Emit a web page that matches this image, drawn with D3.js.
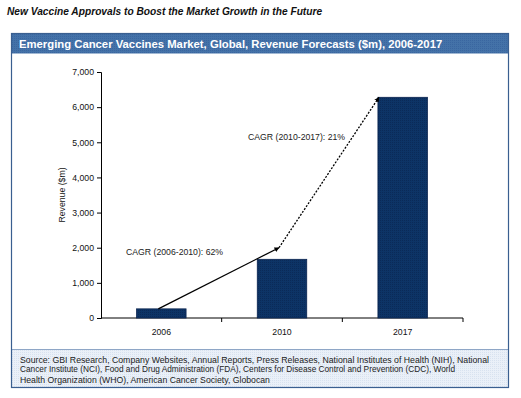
<!DOCTYPE html>
<html>
<head>
<meta charset="utf-8">
<script src="https://cdn.jsdelivr.net/npm/d3@7"></script>
<style>
  body { margin: 0; background: #fff; }
  svg { display: block; font-family: Arial, "Liberation Sans", sans-serif; }
</style>
</head>
<body>
<svg id="chart" width="521" height="398"></svg>
<script>
// chart data
const years = ["2006", "2010", "2017"];
const revenue = [260, 1670, 6280];
const yTicks = [0, 1000, 2000, 3000, 4000, 5000, 6000, 7000];
// trend arrows: solid 2006 -> 2010, dotted 2010 -> 2017
const trendYears = ["2006", "2010", "2017"];
const trendValues = [260, 2000, 6280];
const cagrLabels = [
    { text: "CAGR (2006-2010): 62%", year: "2006", value: 1800 },
    { text: "CAGR (2010-2017): 21%", year: "2010", value: 5070 }
];
const sourceLines = [
    "Source: GBI Research, Company Websites, Annual Reports, Press Releases, National Institutes of Health (NIH), National",
    "Cancer Institute (NCI), Food and Drug Administration (FDA), Centers for Disease Control and Prevention (CDC),  World",
    "Health Organization (WHO), American Cancer Society, Globocan"
];

const svg = d3.select("#chart");

// page title
svg.append("text")
    .attr("x", 7).attr("y", 15)
    .attr("font-size", 10.2).attr("font-weight", "bold").attr("font-style", "italic")
    .attr("fill", "#111")
    .text("New Vaccine Approvals to Boost the Market Growth in the Future");

// frame
const frame = { x: 11.5, y: 33.5, w: 497, h: 354 };
const defs = svg.append("defs");
const pat = defs.append("pattern").attr("id", "dots")
    .attr("width", 2).attr("height", 2).attr("patternUnits", "userSpaceOnUse");
pat.append("rect").attr("width", 2).attr("height", 2).attr("fill", "#eaf0f8");
pat.append("rect").attr("width", 1).attr("height", 1).attr("fill", "#d8e2ef");

const hpat = defs.append("pattern").attr("id", "hdots")
    .attr("width", 2).attr("height", 2).attr("patternUnits", "userSpaceOnUse");
hpat.append("rect").attr("width", 2).attr("height", 2).attr("fill", "#4472a8");
hpat.append("rect").attr("width", 1).attr("height", 1).attr("fill", "#3a66a0");

const bpat = defs.append("pattern").attr("id", "bdots")
    .attr("width", 2).attr("height", 2).attr("patternUnits", "userSpaceOnUse");
bpat.append("rect").attr("width", 2).attr("height", 2).attr("fill", "#0d3466");
bpat.append("rect").attr("width", 1).attr("height", 1).attr("fill", "#0a2a58");

svg.append("rect")
    .attr("x", frame.x).attr("y", frame.y).attr("width", frame.w).attr("height", 20)
    .attr("fill", "url(#hdots)");
svg.append("text")
    .attr("x", 19).attr("y", 48)
    .attr("font-size", 11.3).attr("font-weight", "bold").attr("fill", "#fff")
    .text("Emerging Cancer Vaccines  Market, Global, Revenue  Forecasts  ($m), 2006-2017");

svg.append("rect")
    .attr("x", frame.x).attr("y", 349.5).attr("width", frame.w).attr("height", frame.y + frame.h - 349.5)
    .attr("fill", "url(#dots)");
svg.append("line")
    .attr("x1", frame.x).attr("x2", frame.x + frame.w).attr("y1", 349.5).attr("y2", 349.5)
    .attr("stroke", "#8ea6c6").attr("stroke-width", 1);
svg.append("rect")
    .attr("x", frame.x).attr("y", frame.y).attr("width", frame.w).attr("height", frame.h)
    .attr("fill", "none").attr("stroke", "#3a5f90").attr("stroke-width", 1.2);

// source text (line widths follow the original wrapping)
const sourceY = [362.5, 371.5, 382.5];
const sourceW = [469, 435, null];
svg.append("g").selectAll("text")
    .data(sourceLines)
    .enter().append("text")
    .attr("x", 20).attr("y", (d, i) => sourceY[i])
    .attr("font-size", 8.7).attr("fill", "#222")
    .attr("textLength", (d, i) => sourceW[i])
    .attr("lengthAdjust", "spacingAndGlyphs")
    .text(d => d);

// plot
const x = d3.scaleBand().domain(years).range([101, 463]).paddingInner(0.59).paddingOuter(0.295);
const xb = d3.scaleBand().domain(years).range([101, 463]);
const y = d3.scaleLinear().domain([0, 7000]).range([318, 72]);

const yAxis = svg.append("g")
    .attr("transform", "translate(101,0)")
    .call(d3.axisLeft(y).tickValues(yTicks).tickSize(4).tickFormat(d3.format(",")));
yAxis.select(".domain").attr("stroke", "#000");
yAxis.selectAll(".tick line").attr("stroke", "#000");
yAxis.selectAll("text").attr("font-size", 8.7).attr("fill", "#111").attr("font-family", "Arial, sans-serif");

// x axis with ticks at band boundaries
const xAxisG = svg.append("g").attr("transform", "translate(0,318)");
xAxisG.append("line")
    .attr("x1", 101).attr("x2", 463).attr("stroke", "#000");
xAxisG.selectAll(".xt")
    .data(years.slice(1).concat(["end"]))
    .enter().append("line")
    .attr("class", "xt")
    .attr("x1", d => d === "end" ? 463 : xb(d)).attr("x2", d => d === "end" ? 463 : xb(d))
    .attr("y1", 0).attr("y2", 4).attr("stroke", "#000");
xAxisG.selectAll("text")
    .data(years)
    .enter().append("text")
    .attr("x", d => xb(d) + xb.bandwidth() / 2).attr("y", 17)
    .attr("text-anchor", "middle").attr("font-size", 8.7).attr("fill", "#111")
    .text(d => d);

// axis title
svg.append("text")
    .attr("transform", "translate(65,195) rotate(-90)")
    .attr("text-anchor", "middle").attr("font-size", 8.7).attr("fill", "#111")
    .text("Revenue ($m)");

// bars
svg.append("g").selectAll("rect")
    .data(years)
    .enter().append("rect")
    .attr("x", d => x(d)).attr("width", x.bandwidth())
    .attr("y", (d, i) => y(revenue[i]))
    .attr("height", (d, i) => y(0) - y(revenue[i]))
    .attr("fill", "url(#bdots)").attr("stroke", "#0a2450").attr("stroke-width", 0.8);

// arrow marker
defs.append("marker")
    .attr("id", "arrow")
    .attr("viewBox", "0 -5 10 10")
    .attr("refX", 9).attr("refY", 0)
    .attr("markerWidth", 5).attr("markerHeight", 5)
    .attr("markerUnits", "userSpaceOnUse")
    .attr("orient", "auto")
    .append("path")
    .attr("d", "M0,-5L10,0L0,5Z")
    .attr("fill", "#000");

const tx = (yr, i) => i === 2 ? x(yr) + 1 : x(yr) + x.bandwidth() / 2 - 3;
const pts = trendYears.map((yr, i) => [tx(yr, i), y(trendValues[i])]);

svg.append("line")
    .attr("x1", pts[0][0]).attr("y1", pts[0][1])
    .attr("x2", pts[1][0]).attr("y2", pts[1][1])
    .attr("stroke", "#000").attr("stroke-width", 1.3)
    .attr("marker-end", "url(#arrow)");
svg.append("line")
    .attr("x1", pts[1][0]).attr("y1", pts[1][1])
    .attr("x2", pts[2][0]).attr("y2", pts[2][1])
    .attr("stroke", "#000").attr("stroke-width", 1.3)
    .attr("stroke-dasharray", "2,1.5")
    .attr("marker-end", "url(#arrow)");

// CAGR labels
svg.append("g").selectAll("text")
    .data(cagrLabels)
    .enter().append("text")
    .attr("x", d => d.year === "2006" ? 126 : 248)
    .attr("y", d => y(d.value))
    .attr("font-size", 8.7).attr("fill", "#222")
    .text(d => d.text);
</script>
</body>
</html>
